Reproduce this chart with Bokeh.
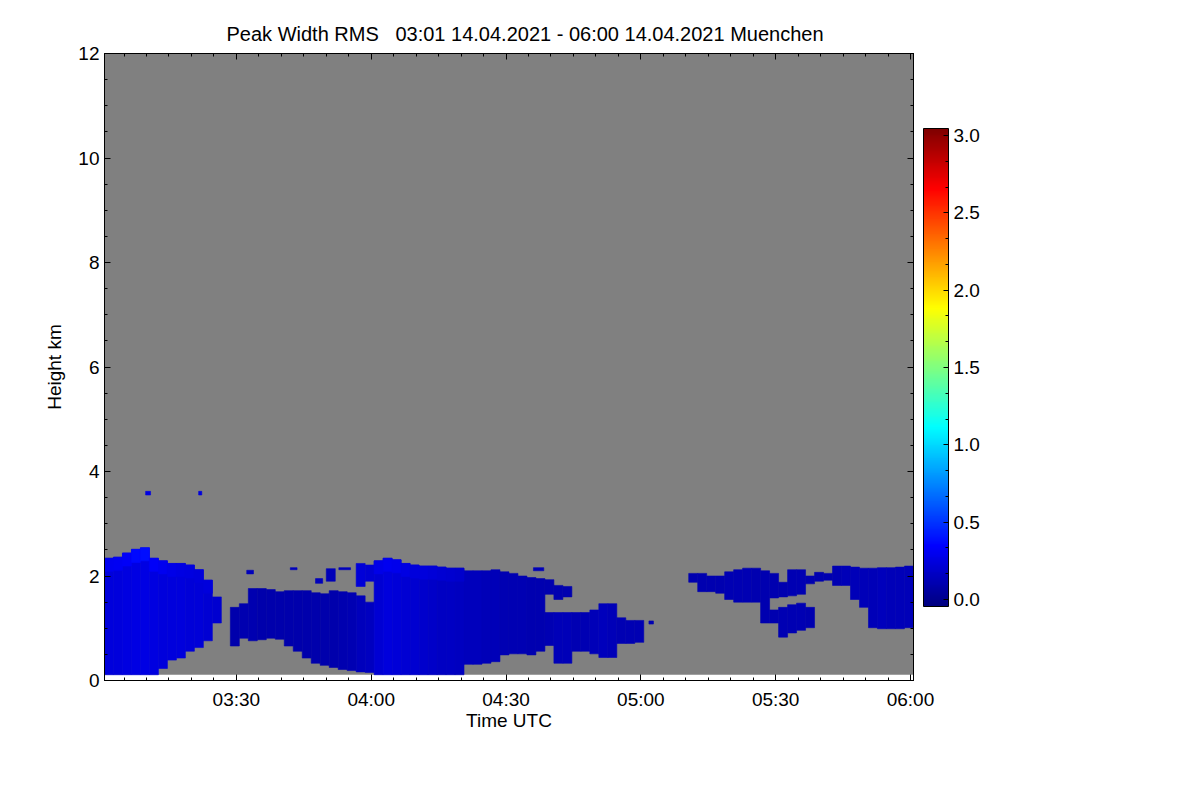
import math
from bokeh.plotting import figure
from bokeh.models import (Range1d, LinearAxis, FixedTicker, ColumnDataSource,
                          LinearColorMapper, ColorBar, Label)
from bokeh.embed import file_html
from bokeh.resources import INLINE

FONT = "Liberation Sans"

# ---------------- data ----------------
# time axis in minutes after 03:00 UTC, 2-minute profile bins
t_first = 0.65
t_last = 180.67
bin_minutes = 2.0
n_bins = 90
gate_bottom_km = 0.11          # lowest range gate
height_top_km = 12.0

# main (low) echo layer per bin: bottom / top height (km) and RMS (m/s)
low_bottom = [0.11, 0.11, 0.11, 0.11, 0.11, 0.11, 0.23, 0.39, 0.43, 0.56, 0.63, 0.76, 1.10,
              None,
              0.66, 0.81, 0.76, 0.78, 0.81, 0.79, 0.66, 0.56, 0.43, 0.33, 0.29, 0.25, 0.21, 0.19, 0.165, 0.155,
              0.11, 0.11, 0.11, 0.11, 0.11, 0.11, 0.11, 0.11, 0.11, 0.11,
              0.31, 0.31, 0.33, 0.36, 0.49, 0.51, 0.51, 0.49, 0.56,
              0.67, 0.33, 0.33, 0.56, 0.56, 0.51, 0.44, 0.44, 0.71, 0.71, 0.73,
              None, None, None, None, None, None, None, None, None, None, None, None, None, None,
              1.10, 0.83, 0.91, 0.96, 1.01,
              None, None,
              1.82, 1.82, 1.55, 1.40, 1.01, 0.99, 0.99, 0.99, 1.01]
low_top = [2.34, 2.36, 2.44, 2.51, 2.54, 2.34, 2.29, 2.24, 2.24, 2.21, 2.12, 1.92, 1.60,
           None,
           1.40, 1.47, 1.76, 1.76, 1.74, 1.70, 1.72, 1.72, 1.72, 1.68, 1.66, 1.72, 1.70, 1.68, 1.62, 1.50,
           2.29, 2.34, 2.31, 2.24, 2.21, 2.19, 2.19, 2.17, 2.15, 2.15,
           2.10, 2.10, 2.10, 2.12, 2.08, 2.05, 2.00, 1.97, 1.95,
           1.30, 1.30, 1.30, 1.30, 1.30, 1.35, 1.47, 1.47, 1.20, 1.15, 1.15,
           None, None, None, None, None, None, None, None, None, None, None, None, None, None,
           1.35, 1.40, 1.45, 1.48, 1.40,
           None, None,
           2.19, 2.19, 2.17, 2.15, 2.15, 2.16, 2.16, 2.17, 2.19]
low_rms = [0.27, 0.28, 0.29, 0.30, 0.30, 0.29, 0.28, 0.27, 0.27, 0.26, 0.26, 0.25, 0.24,
           None,
           0.14, 0.15, 0.15, 0.14, 0.13, 0.13, 0.14, 0.14, 0.13, 0.13, 0.14, 0.14, 0.15, 0.16, 0.18, 0.19,
           0.25, 0.27, 0.26, 0.25, 0.24, 0.23, 0.22, 0.21, 0.20, 0.19,
           0.18, 0.18, 0.17, 0.17, 0.16, 0.16, 0.16, 0.15, 0.15,
           0.16, 0.17, 0.17, 0.16, 0.16, 0.17, 0.18, 0.17, 0.16, 0.16, 0.16,
           None, None, None, None, None, None, None, None, None, None, None, None, None, None,
           0.15, 0.16, 0.16, 0.16, 0.15,
           None, None,
           0.16, 0.17, 0.17, 0.17, 0.17, 0.18, 0.17, 0.17, 0.17]

# elevated echo layer (bins where a second layer exists)
up_bin = [28, 29, 49, 50, 51, 65, 66, 67, 68, 69, 70, 71, 72, 73, 74, 75, 76, 77, 78, 79, 80]
up_bottom = [1.80, 1.90, 1.65, 1.55, 1.60, 1.88, 1.70, 1.70, 1.67, 1.55, 1.50, 1.50, 1.50, 1.10,
             1.58, 1.60, 1.62, 1.65, 1.85, 1.90, 1.92]
up_top = [2.24, 2.21, 1.93, 1.82, 1.80, 2.05, 2.05, 2.00, 2.00, 2.08, 2.12, 2.15, 2.15, 2.10,
          2.05, 1.88, 2.12, 2.12, 2.00, 2.07, 2.05]
up_rms = [0.26, 0.25, 0.15, 0.15, 0.15, 0.15, 0.15, 0.15, 0.15, 0.16, 0.16, 0.16, 0.15, 0.15,
          0.15, 0.15, 0.16, 0.16, 0.15, 0.15, 0.15]

# slightly brighter cloud-top band (top part of the low layer)
cap_bin = [0, 1, 2, 3, 4, 5, 6, 7, 8, 9, 10, 11,
           30, 31, 32, 33, 34, 35, 36, 37, 38, 39]
cap_rms = [0.33, 0.34, 0.36, 0.40, 0.42, 0.36, 0.33, 0.31, 0.30, 0.29, 0.28, 0.27,
           0.31, 0.33, 0.32, 0.30, 0.28, 0.27, 0.26, 0.25, 0.24, 0.23]
cap_depth_km = 0.25

# isolated small echoes
speck_start = [9.8, 21.6, 32.3, 42.0, 47.6, 50.0, 52.8, 96.1, 121.8]
speck_end = [10.9, 22.3, 33.8, 43.5, 49.2, 52.0, 55.4, 98.4, 122.8]
speck_bottom = [3.55, 3.55, 2.04, 2.12, 1.86, 1.90, 2.12, 2.10, 1.08]
speck_top = [3.62, 3.62, 2.11, 2.16, 1.95, 2.14, 2.16, 2.16, 1.14]
speck_rms = [0.30, 0.28, 0.18, 0.18, 0.18, 0.17, 0.18, 0.17, 0.16]

tick_minutes = [30, 60, 90, 120, 150, 180]
tick_labels = ["03:30", "04:00", "04:30", "05:00", "05:30", "06:00"]
height_ticks = [0, 2, 4, 6, 8, 10, 12]
rms_ticks = [0.0, 0.5, 1.0, 1.5, 2.0, 2.5, 3.0]
rms_labels = ["0.0", "0.5", "1.0", "1.5", "2.0", "2.5", "3.0"]

title_text = "Peak Width RMS \u00a0 03:01 14.04.2021 - 06:00 14.04.2021 Muenchen"

# ---------------- colours ----------------
def jet_hex(f):
    r = min(max(1.5 - abs(4 * f - 3), 0.0), 1.0)
    g = min(max(1.5 - abs(4 * f - 2), 0.0), 1.0)
    b = min(max(1.5 - abs(4 * f - 1), 0.0), 1.0)
    return "#%02x%02x%02x" % (int(round(r * 255)), int(round(g * 255)), int(round(b * 255)))

palette = [jet_hex(i / 255.0) for i in range(256)]
mapper = LinearColorMapper(palette=palette, low=0.0, high=3.0)
# colour bar drawn with its labels inset from the bar ends, as in the original
bar_mapper = LinearColorMapper(palette=palette, low=-0.046, high=3.046)

# ---------------- sources ----------------
bin_left = [t_first + bin_minutes * k for k in range(n_bins)]
bin_right = [min(l + bin_minutes, t_last) for l in bin_left]

L, R, B, T, V = [], [], [], [], []
for k in range(n_bins):
    if low_bottom[k] is None:
        continue
    L.append(bin_left[k]); R.append(bin_right[k])
    B.append(low_bottom[k]); T.append(low_top[k]); V.append(low_rms[k])
for i, k in enumerate(up_bin):
    L.append(bin_left[k]); R.append(bin_right[k])
    B.append(up_bottom[i]); T.append(up_top[i]); V.append(up_rms[i])
for i, k in enumerate(cap_bin):
    L.append(bin_left[k]); R.append(bin_right[k])
    B.append(low_top[k] - cap_depth_km); T.append(low_top[k]); V.append(cap_rms[i])
for i in range(len(speck_start)):
    L.append(speck_start[i]); R.append(speck_end[i])
    B.append(speck_bottom[i]); T.append(speck_top[i]); V.append(speck_rms[i])

echo_src = ColumnDataSource(dict(left=L, right=R, bottom=B, top=T, rms=V))

# ---------------- figure ----------------
p = figure(width=1110, height=768, output_backend="svg", toolbar_location=None,
           x_range=Range1d(t_first, t_last), y_range=Range1d(0, height_top_km),
           min_border_left=104, min_border_right=197, min_border_top=53, min_border_bottom=88)
p.background_fill_color = "white"
p.border_fill_color = "white"
p.outline_line_color = "black"
p.xgrid.visible = False
p.ygrid.visible = False

# no-data background (gray) above the lowest gate
p.quad(left=[t_first], right=[t_last], bottom=[gate_bottom_km], top=[height_top_km],
       fill_color="#808080", line_color=None)

p.quad(left="left", right="right", bottom="bottom", top="top", source=echo_src,
       fill_color={"field": "rms", "transform": mapper},
       line_color={"field": "rms", "transform": mapper}, line_width=0.6)

xticker = FixedTicker(ticks=tick_minutes, minor_ticks=list(range(5, 181, 5)))
yticker = FixedTicker(ticks=height_ticks, minor_ticks=[0.5 * i for i in range(25)])

def style_axis(ax, labels=True):
    ax.major_tick_in = 6
    ax.major_tick_out = 0
    ax.minor_tick_in = 3
    ax.minor_tick_out = 0
    ax.axis_line_color = "black"
    ax.major_tick_line_color = "black"
    ax.minor_tick_line_color = "black"
    ax.major_label_text_font = FONT
    ax.axis_label_text_font = FONT
    ax.axis_label_text_font_style = "normal"
    ax.axis_label_text_font_size = "19px"
    ax.axis_label_text_color = "black"
    if labels:
        ax.major_label_text_font_size = "19px"
        ax.major_label_text_color = "black"
    else:
        ax.major_label_text_font_size = "1px"
        ax.major_label_text_color = None
        ax.major_label_standoff = 0

xa = p.xaxis[0]
xa.ticker = xticker
xa.major_label_overrides = {m: s for m, s in zip(tick_minutes, tick_labels)}
xa.axis_label = "Time UTC"
style_axis(xa)
xa.major_label_standoff = 8
xa.axis_label_standoff = -3

ya = p.yaxis[0]
ya.ticker = yticker
ya.axis_label = "Height km"
style_axis(ya)
ya.major_label_standoff = 5
ya.axis_label_standoff = 10

top_ax = LinearAxis(ticker=xticker)
style_axis(top_ax, labels=False)
p.add_layout(top_ax, "above")
right_ax = LinearAxis(ticker=yticker)
style_axis(right_ax, labels=False)
p.add_layout(right_ax, "right")

p.title.text = title_text
p.title.text_font = FONT
p.title.text_font_size = "20px"
p.title.text_font_style = "normal"
p.title.text_color = "black"
p.title.align = "left"
p.title.offset = 122
p.title.standoff = 17

cb = ColorBar(color_mapper=bar_mapper, width=25, height=478, location=(819, 74),
              padding=0, margin=0,
              ticker=FixedTicker(ticks=rms_ticks, minor_ticks=[i / 6 for i in range(19)]),
              major_label_overrides={v: s for v, s in zip(rms_ticks, rms_labels)},
              major_label_text_font=FONT, major_label_text_font_size="19px",
              major_label_text_color="black",
              label_standoff=5, bar_line_color="black",
              major_tick_line_color="black", minor_tick_line_color="black",
              major_tick_in=5, minor_tick_in=3,
              background_fill_color=None, border_line_color=None)
p.add_layout(cb, "center")

p.add_layout(Label(x=198.2, y=6.0, text="RMS m/s", angle=math.pi / 2,
                   text_align="center", text_baseline="middle",
                   text_font=FONT, text_font_size="19px", text_color="black"))

open("out.html", "w").write(file_html(p, INLINE))
